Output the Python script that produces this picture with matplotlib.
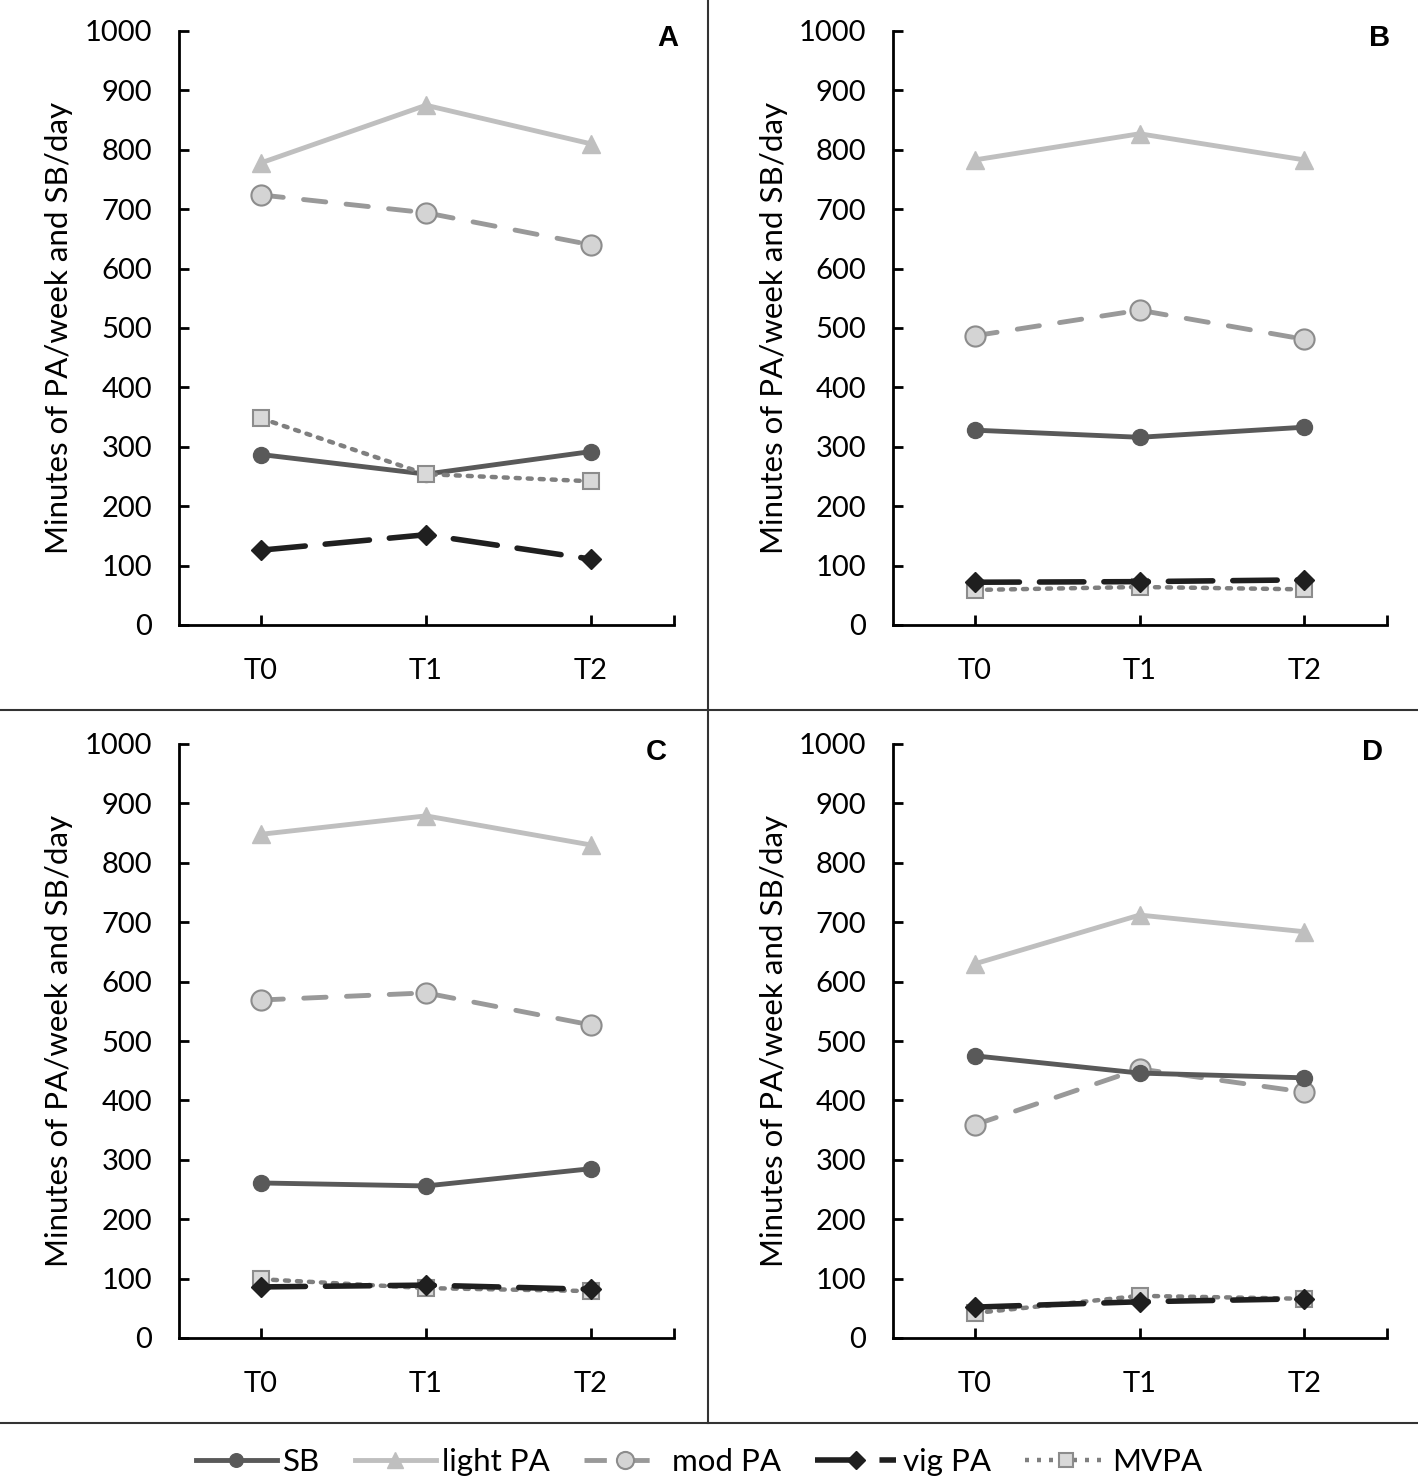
import matplotlib
matplotlib.use("Agg")
import matplotlib.pyplot as plt
from matplotlib.lines import Line2D

plt.rcParams['font.family'] = ['Lato', 'DejaVu Sans']

timepoints = ["T0", "T1", "T2"]
series_names = ["SB", "light PA", "mod PA", "vig PA", "MVPA"]
panel_labels = ["A", "B", "C", "D"]

# values per panel (minutes)
sb = {"A": [287, 254, 292], "B": [328, 316, 333], "C": [261, 256, 285], "D": [475, 446, 438]}
light_pa = {"A": [778, 875, 810], "B": [783, 827, 783], "C": [848, 879, 830], "D": [630, 712, 684]}
mod_pa = {"A": [724, 694, 640], "B": [487, 530, 481], "C": [569, 581, 527], "D": [359, 453, 414]}
vig_pa = {"A": [126, 152, 111], "B": [72, 73, 76], "C": [86, 89, 82], "D": [52, 61, 66]}
mvpa = {"A": [348, 254, 242], "B": [59, 64, 60], "C": [99, 84, 79], "D": [42, 71, 66]}

yticks = list(range(0, 1001, 100))
ylabel = "Minutes of PA/week and SB/day"

styles = {
    "SB": dict(color="#595959", lw=3.5, ls="-", marker="o", ms=11.5, mfc="#595959", mec="#595959"),
    "light PA": dict(color="#BFBFBF", lw=3.5, ls="-", marker="^", ms=13.5, mfc="#BFBFBF", mec="#BFBFBF"),
    "mod PA": dict(color="#999999", lw=3.5, ls=(0, (4.6, 4.2)), marker="o", ms=14.5, mfc="#D4D4D4", mec="#8C8C8C", mew=1.5),
    "vig PA": dict(color="#1F1F1F", lw=4.0, ls=(0, (8, 3.6)), marker="D", ms=10.5, mfc="#1F1F1F", mec="#1F1F1F"),
    "MVPA": dict(color="#7F7F7F", lw=3.2, ls=(0, (0.9, 1.8)), marker="s", ms=12, mfc="#D9D9D9", mec="#8C8C8C", mew=1.5),
}
data = {"SB": sb, "light PA": light_pa, "mod PA": mod_pa, "vig PA": vig_pa, "MVPA": mvpa}
order = ["light PA", "mod PA", "SB", "MVPA", "vig PA"]

W, H = 1418, 1483
fig = plt.figure(figsize=(W / 100, H / 100), dpi=100)

# axes positions in pixels: (left, top(y=1000), right, bottom(y=0))
pos = {"A": (178.5, 31, 673.5, 625), "B": (892.7, 31, 1386.5, 625),
       "C": (178.5, 744, 673.5, 1338), "D": (892.7, 744, 1386.5, 1338)}
letter_xy = {"A": (0.988, 0.988), "B": (0.985, 0.988), "C": (0.966, 0.987), "D": (0.972, 0.987)}

x = list(range(len(timepoints)))
for p in panel_labels:
    l, t, r, b = pos[p]
    ax = fig.add_axes([l / W, 1 - b / H, (r - l) / W, (b - t) / H])
    for name in order:
        st = dict(styles[name])
        ax.plot(x, data[name][p], color=st["color"], lw=st["lw"], ls=st["ls"],
                marker=st["marker"], ms=st["ms"], mfc=st["mfc"], mec=st["mec"],
                mew=st.get("mew", 1.0), solid_capstyle="round", dash_capstyle="round", zorder=3)
    ax.set_xlim(-0.5, 2.5)
    ax.set_ylim(0, 1000)
    ax.set_yticks(yticks)
    ax.set_xticks([0, 1, 2, 2.5])
    ax.set_xticklabels(timepoints + [""])
    for s in ["top", "right"]:
        ax.spines[s].set_visible(False)
    for s in ["left", "bottom"]:
        ax.spines[s].set_linewidth(2.0)
        ax.spines[s].set_color("black")
    ax.tick_params(axis="y", direction="in", length=7, width=2.0, pad=19, labelsize=21)
    ax.tick_params(axis="x", direction="in", length=7, width=2.0, pad=24, labelsize=21)
    ax.set_ylabel(ylabel, fontsize=22.5, labelpad=8)
    ax.text(letter_xy[p][0], letter_xy[p][1], p, transform=ax.transAxes, ha="center", va="center",
            fontsize=21, fontweight="bold", family=["Liberation Sans", "DejaVu Sans"])

# divider lines
fig.add_artist(Line2D([708 / W, 708 / W], [1 - 1423 / H, 1.0], transform=fig.transFigure, color="#333333", lw=1.5))
fig.add_artist(Line2D([0, 1], [1 - 710 / H, 1 - 710 / H], transform=fig.transFigure, color="#333333", lw=1.5))
fig.add_artist(Line2D([0, 1], [1 - 1423 / H, 1 - 1423 / H], transform=fig.transFigure, color="#333333", lw=1.5))

handles = []
for name in series_names:
    st = styles[name]
    handles.append(Line2D([], [], color=st["color"], lw=st["lw"], ls=st["ls"], marker=st["marker"],
                          ms=st["ms"] * 0.85, mfc=st["mfc"], mec=st["mec"], mew=st.get("mew", 1.0)))
fig.legend(handles, series_names, loc="center", bbox_to_anchor=(0.493, 1 - 1462 / H), ncol=5,
           frameon=False, fontsize=22.5, handlelength=2.6, columnspacing=1.1, handletextpad=0.2)

fig.savefig("out.png", dpi=100, facecolor="white")
